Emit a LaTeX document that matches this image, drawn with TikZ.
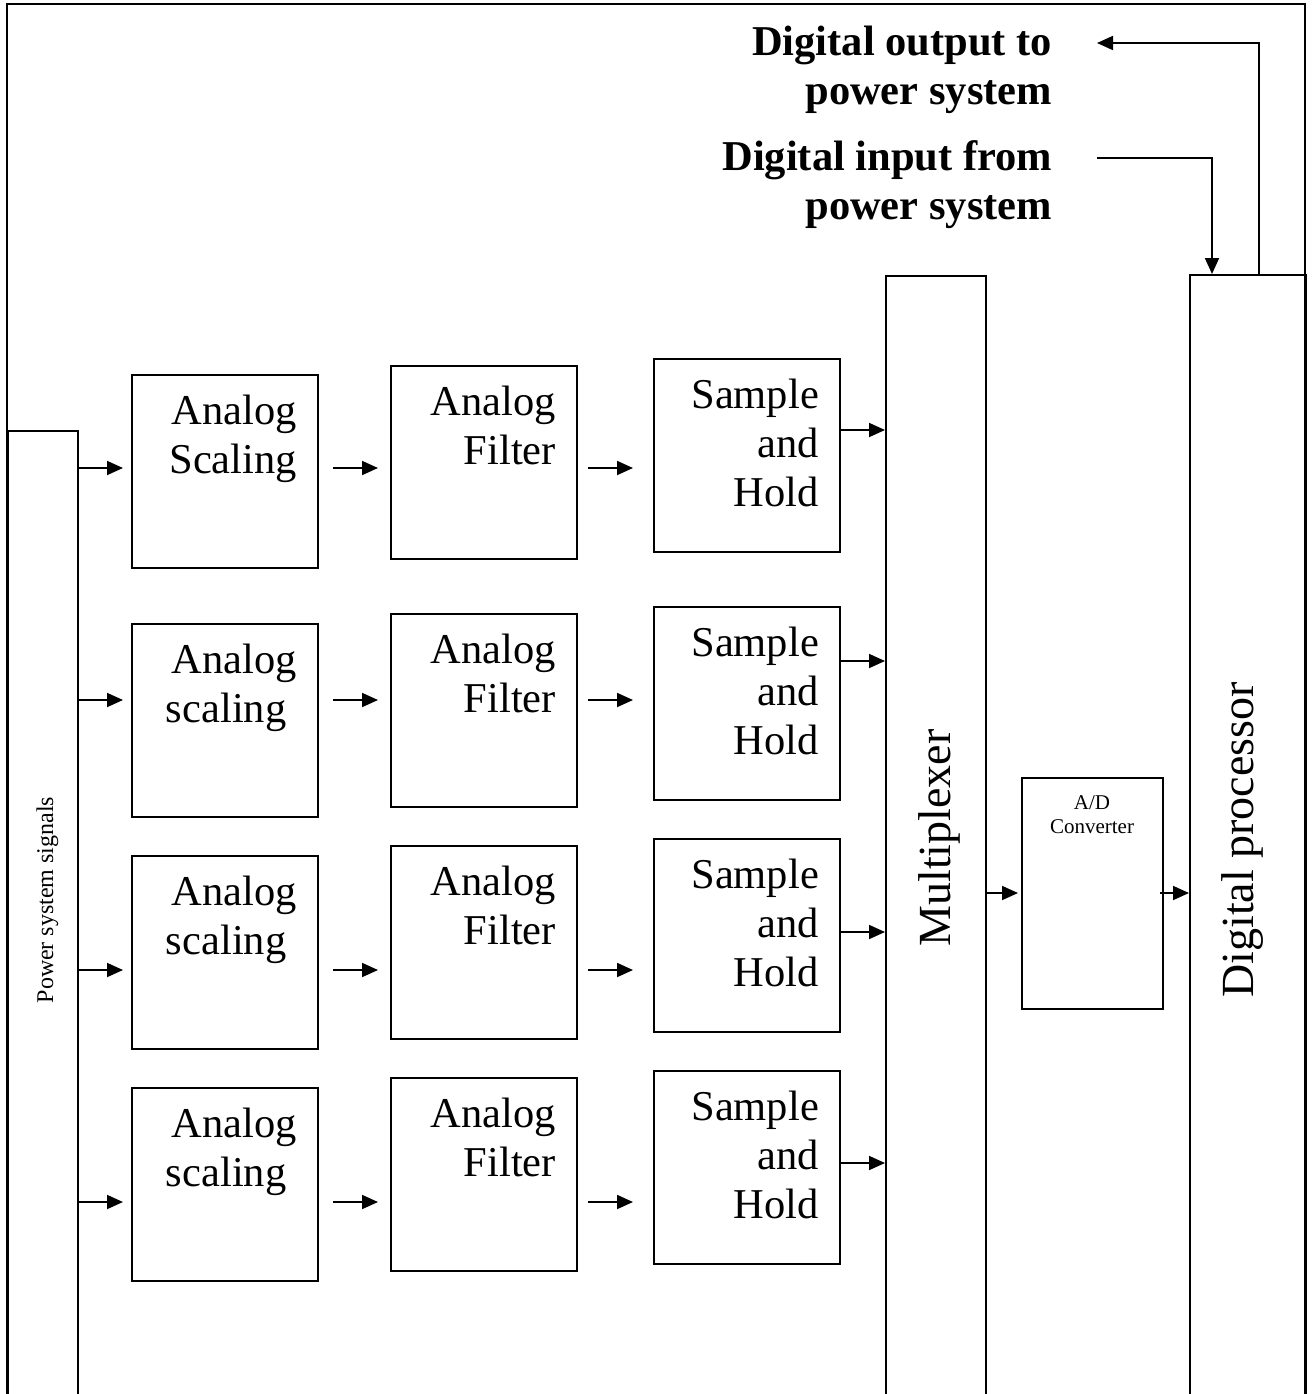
\documentclass[tikz,border=0pt]{standalone}
\usepackage{fontspec}
\setmainfont{Liberation Serif}
\usetikzlibrary{arrows.meta}
\begin{document}
\begin{tikzpicture}[x=1pt,y=-1pt,
  line width=1.8pt,
  box/.style={draw, line width=1.8pt, rectangle, inner sep=0pt, anchor=north west,
              minimum width=186pt, minimum height=193pt},
  tall/.style={draw, line width=1.8pt, rectangle, inner sep=0pt, anchor=north west},
  lbl/.style={inner sep=0pt, align=right, font=\fontsize{42.5}{49}\selectfont, anchor=north east},
  ttl/.style={inner sep=0pt, align=right, font=\fontsize{42.5}{49}\selectfont\bfseries, anchor=north east},
  arr/.style={-{Triangle[length=16pt,width=14pt]}, line width=1.8pt},
]
\useasboundingbox (0,0) rectangle (1314,1394);

% outer frame (open at the bottom)
\draw (7,1400) -- (7,4) -- (1305,4) -- (1305,1400);

% tall blocks
\node[tall, minimum width=70pt, minimum height=980pt] (ps) at (7,430) {};
\node[tall, minimum width=100pt, minimum height=1130pt] (mux) at (885,275) {};
\node[tall, minimum width=116pt, minimum height=1130pt] (dp) at (1189,274) {};
\node[tall, minimum width=141pt, minimum height=231pt] (adc) at (1021,777) {};

\node[rotate=90, anchor=base, inner sep=0pt, font=\fontsize{24}{28}\selectfont] (pst) at (53,900) {Power system signals};
\node[rotate=90, anchor=base, inner sep=0pt, font=\fontsize{46}{52}\selectfont] (muxt) at (950,838) {Multiplexer};
\node[rotate=90, anchor=base, inner sep=0pt, font=\fontsize{46}{52}\selectfont] (dpt) at (1253,840) {Digital processor};
\node[anchor=north, inner sep=0pt, align=center, font=\fontsize{21}{24}\selectfont] (adct) at (1092,795) {A/D\\Converter};

% row boxes
\node[box] (sc1) at (131,374) {};
\node[box] (fi1) at (390,365) {};
\node[box] (sh1) at (653,358) {};
\node[box] (sc2) at (131,623) {};
\node[box] (fi2) at (390,613) {};
\node[box] (sh2) at (653,606) {};
\node[box] (sc3) at (131,855) {};
\node[box] (fi3) at (390,845) {};
\node[box] (sh3) at (653,838) {};
\node[box] (sc4) at (131,1087) {};
\node[box] (fi4) at (390,1077) {};
\node[box] (sh4) at (653,1070) {};

% labels
\node[lbl] (sc1t) at ([xshift=-21pt,yshift=-20pt]sc1.north east) {Analog\\Scaling};
\node[lbl] (sc2t) at ([xshift=-21pt,yshift=-20pt]sc2.north east) {Analog\\scaling\hspace*{10.6pt}};
\node[lbl] (sc3t) at ([xshift=-21pt,yshift=-20pt]sc3.north east) {Analog\\scaling\hspace*{10.6pt}};
\node[lbl] (sc4t) at ([xshift=-21pt,yshift=-20pt]sc4.north east) {Analog\\scaling\hspace*{10.6pt}};
\foreach \r in {1,2,3,4}{
  \node[lbl] (fi\r t) at ([xshift=-21pt,yshift=-20pt]fi\r.north east) {Analog\\Filter};
  \node[lbl] (sh\r t) at ([xshift=-21pt,yshift=-20pt]sh\r.north east) {Sample\\and\\Hold};
}

% titles
\node[ttl] (tout) at (1053,25) {Digital output to\\power system};
\node[ttl] (tin) at (1053,140) {Digital input from\\power system};

% row levels
\coordinate (y1) at (0,468);
\coordinate (y2) at (0,700);
\coordinate (y3) at (0,970);
\coordinate (y4) at (0,1202);
\coordinate (m1) at (0,430);
\coordinate (m2) at (0,661);
\coordinate (m3) at (0,932);
\coordinate (m4) at (0,1163);
\coordinate (yad) at (0,893);

\foreach \r in {1,2,3,4}{
  \draw[arr] (ps.east |- y\r) -- ([xshift=-8pt]sc\r.west |- y\r);
  \draw[arr] ([xshift=14pt]sc\r.east |- y\r) -- ([xshift=-12pt]fi\r.west |- y\r);
  \draw[arr] ([xshift=10pt]fi\r.east |- y\r) -- ([xshift=-20pt]sh\r.west |- y\r);
  \draw[arr] (sh\r.east |- m\r) -- (mux.west |- m\r);
}
\draw[arr] (mux.east |- yad) -- ([xshift=-3pt]adc.west |- yad);
\draw[arr] ([xshift=-4pt]adc.east |- yad) -- (dp.west |- yad);

% digital I/O
\coordinate (outtip) at (1097,43);
\coordinate (instart) at (1097,158);
\draw[arr] ([xshift=70pt]dp.north west) |- (outtip);
\draw[arr] (instart) -| ([xshift=23pt]dp.north west);
\end{tikzpicture}
\end{document}
